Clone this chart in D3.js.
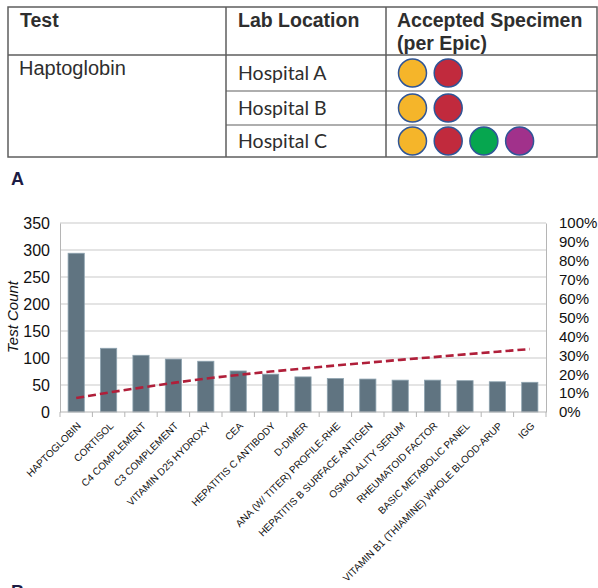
<!DOCTYPE html>
<html>
<head>
<meta charset="utf-8">
<script src="https://cdn.jsdelivr.net/npm/d3@7"></script>
<style>
body { margin:0; background:#fff; }
svg { display:block; font-family:"Liberation Sans", Arial, sans-serif; }
.grid line { stroke:#c9c9c9; stroke-width:1; }
.axis path, .axis line { stroke:#b5b5b5; }
.axis text { fill:#111; }
</style>
</head>
<body>
<svg id="myGraph" width="598" height="588"></svg>
<script>
// table data (panel A)
var tableHeaders = ["Test", "Lab Location", "Accepted Specimen", "(per Epic)"];
var testName = "Haptoglobin";
var hospitals = ["Hospital A", "Hospital B", "Hospital C"];
var specimens = [
	["#f5b52a", "#c12a3d"],
	["#f5b52a", "#c12a3d"],
	["#f5b52a", "#c12a3d", "#06a64f", "#a1318b"]
];

// chart data (panel B)
var tests = ["HAPTOGLOBIN", "CORTISOL", "C4 COMPLEMENT", "C3 COMPLEMENT", "VITAMIN D25 HYDROXY",
	"CEA", "HEPATITIS C ANTIBODY", "D-DIMER", "ANA (W/ TITER) PROFILE-RHE", "HEPATITIS B SURFACE ANTIGEN",
	"OSMOLALITY SERUM", "RHEUMATOID FACTOR", "BASIC METABOLIC PANEL", "VITAMIN B1 (THIAMINE) WHOLE BLOOD-ARUP", "IGG"];
var counts = [294, 118, 105, 98, 94, 76, 70, 65, 62, 61, 59, 59, 58, 56, 55];
var cumPercent = [7.4, 10.3, 12.9, 15.4, 17.7, 19.6, 21.4, 23.0, 24.6, 26.1, 27.6, 29.0, 30.5, 31.9, 33.3];
var countTicks = [0, 50, 100, 150, 200, 250, 300, 350];
var percentTicks = [0, 10, 20, 30, 40, 50, 60, 70, 80, 90, 100];

var svg = d3.select("#myGraph");

drawTable();
drawChart();

function drawTable(){
	var g = svg.append("g");
	var left = 8, right = 597, top = 7, bottom = 157;
	var col1 = 226, col2 = 386;
	var headBottom = 55;
	var rowY = [55, 91, 125, 157];	// row borders of hospitals

	// borders
	g.append("rect").attr("x", left).attr("y", top).attr("width", right - left).attr("height", bottom - top)
		.attr("fill", "none").attr("stroke", "#5e5e5e").attr("stroke-width", 1.5);
	g.append("line").attr("x1", left).attr("x2", right).attr("y1", headBottom).attr("y2", headBottom)
		.attr("stroke", "#5e5e5e").attr("stroke-width", 1.5);
	[col1, col2].forEach(function(x){
		g.append("line").attr("x1", x).attr("x2", x).attr("y1", top).attr("y2", bottom)
			.attr("stroke", "#5e5e5e").attr("stroke-width", 1.5);
	});
	rowY.slice(1, 3).forEach(function(y){
		g.append("line").attr("x1", col1).attr("x2", right).attr("y1", y).attr("y2", y)
			.attr("stroke", "#5e5e5e").attr("stroke-width", 1.2);
	});

	// header text
	var head = g.append("g").attr("font-weight", "bold").attr("font-size", 19.5).attr("fill", "#2e2e2e");
	head.append("text").attr("x", 20).attr("y", 27).text(tableHeaders[0]);
	head.append("text").attr("x", 238).attr("y", 27).text(tableHeaders[1]);
	head.append("text").attr("x", 397).attr("y", 27).text(tableHeaders[2]);
	head.append("text").attr("x", 397).attr("y", 50).text(tableHeaders[3]);

	g.append("text").attr("x", 19).attr("y", 75).attr("font-size", 20).attr("fill", "#2e2e2e").text(testName);

	hospitals.forEach(function(h, i){
		var cy = (rowY[i] + rowY[i + 1]) / 2;
		g.append("text").attr("x", 238).attr("y", cy + 7)
			.attr("font-family", "Lato, 'Open Sans', sans-serif").attr("font-size", 19.5).attr("fill", "#2e2e2e").text(h);
		g.selectAll(null).data(specimens[i]).enter().append("circle")
			.attr("cx", function(d, j){ return 412.5 + j * 35.7; })
			.attr("cy", cy)
			.attr("r", 14)
			.attr("fill", function(d){ return d; })
			.attr("stroke", "#2f5597").attr("stroke-width", 1.5);
	});

	g.append("text").attr("x", 11).attr("y", 185).attr("font-weight", "bold").attr("font-size", 18).attr("fill", "#1c1c44").text("A");
	g.append("text").attr("x", 11).attr("y", 598).attr("font-weight", "bold").attr("font-size", 18).attr("fill", "#1c1c44").text("B");
}

function drawChart(){
	var x0 = 60, x1 = 546, y0 = 412, y1 = 223;

	var xScale = d3.scaleBand().domain(tests).range([x0, x1]).paddingInner(0.5).paddingOuter(0.25);
	var yScale = d3.scaleLinear().domain([0, 350]).range([y0, y1]);
	var pScale = d3.scaleLinear().domain([0, 100]).range([y0, y1]);

	// gridlines
	svg.append("g").attr("class", "grid").selectAll("line").data(countTicks.slice(1)).enter().append("line")
		.attr("x1", x0).attr("x2", x1)
		.attr("y1", function(d){ return yScale(d); }).attr("y2", function(d){ return yScale(d); });

	// left axis
	var leftAxis = svg.append("g").attr("class", "axis").attr("transform", "translate(" + x0 + ",0)")
		.call(d3.axisLeft(yScale).tickValues(countTicks).tickSize(0).tickPadding(10));
	leftAxis.selectAll("text").attr("font-size", 16);

	// right axis
	var rightAxis = svg.append("g").attr("class", "axis").attr("transform", "translate(" + x1 + ",0)")
		.call(d3.axisRight(pScale).tickValues(percentTicks).tickSize(0).tickPadding(13)
			.tickFormat(function(d){ return d + "%"; }));
	rightAxis.selectAll("text").attr("font-size", 15);

	// bars
	svg.append("g").selectAll("rect").data(counts).enter().append("rect")
		.attr("x", function(d, i){ return xScale(tests[i]); })
		.attr("y", function(d){ return yScale(d); })
		.attr("width", xScale.bandwidth())
		.attr("height", function(d){ return y0 - yScale(d); })
		.attr("fill", "#607481")
		.attr("stroke", "#8ea3b0").attr("stroke-width", 0.8);

	// bottom axis: baseline + ticks between categories
	var step = xScale.step();
	var start = xScale(tests[0]) - step * 0.25;
	var bottom = svg.append("g").attr("class", "axis").attr("transform", "translate(0," + y0 + ")");
	bottom.append("line").attr("x1", x0).attr("x2", x1);
	bottom.selectAll("line.tk").data(d3.range(tests.length + 1)).enter().append("line").attr("class", "tk")
		.attr("x1", function(d){ return start + d * step; })
		.attr("x2", function(d){ return start + d * step; })
		.attr("y1", 0).attr("y2", 5);

	bottom.selectAll("text").data(tests).enter().append("text")
		.attr("transform", function(d){ return "translate(" + (xScale(d) + xScale.bandwidth() / 2 + 3) + ",12) rotate(-45)"; })
		.attr("text-anchor", "end")
		.attr("dy", "0.35em")
		.attr("font-size", 10)
		.attr("fill", "#111")
		.text(function(d){ return d; });

	// cumulative percentage line
	var line = d3.line()
		.x(function(d, i){ return xScale(tests[i]) + xScale.bandwidth() / 2; })
		.y(function(d){ return pScale(d); });
	svg.append("path").attr("d", line(cumPercent))
		.attr("fill", "none").attr("stroke", "#b01f3a").attr("stroke-width", 2.6)
		.attr("stroke-dasharray", "8,4");

	// y title
	svg.append("text").attr("transform", "translate(18,317) rotate(-90)")
		.attr("text-anchor", "middle").attr("font-style", "italic").attr("font-size", 15).attr("fill", "#111")
		.text("Test Count");
}
</script>
</body>
</html>
